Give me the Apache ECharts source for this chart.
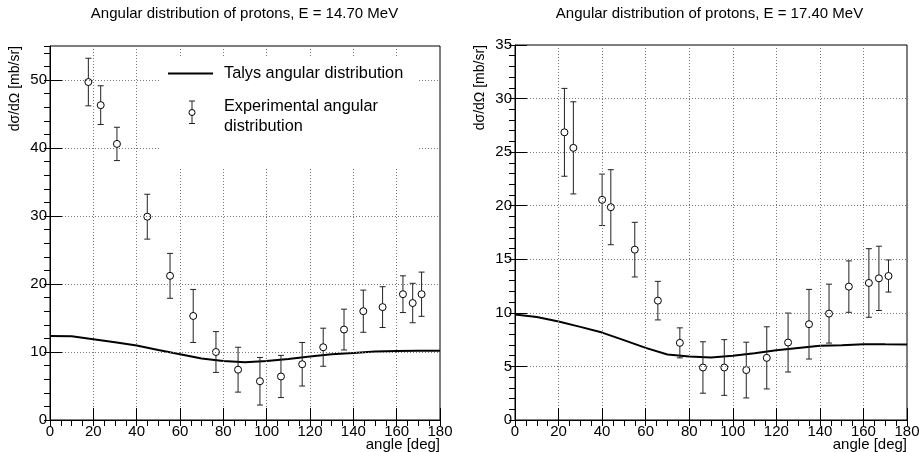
<!DOCTYPE html>
<html>
<head>
<meta charset="utf-8">
<script src="https://cdn.jsdelivr.net/npm/echarts@6/dist/echarts.min.js"></script>
<style>
html,body{margin:0;padding:0;background:#fff;}
#chart{width:924px;height:452px;}
</style>
</head>
<body>
<div id="chart"></div>
<script>
// ---- data ----
const leftTitle = 'Angular distribution of protons, E = 14.70 MeV';
const rightTitle = 'Angular distribution of protons, E = 17.40 MeV';
const yTitle = 'dσ/dΩ [mb/sr]';
const xTitle = 'angle [deg]';
const legendLine = 'Talys angular distribution';
const legendExp1 = 'Experimental angular';
const legendExp2 = 'distribution';

const talysAngles = [0, 10, 20, 30, 40, 50, 60, 70, 80, 90, 100, 110, 120, 130, 140, 150, 160, 170, 180];
const leftTalys  = [12.37, 12.3, 11.88, 11.45, 10.95, 10.3, 9.67, 9.03, 8.67, 8.5, 8.69, 8.98, 9.33, 9.67, 9.87, 10.06, 10.16, 10.2, 10.2];
const rightTalys = [9.84, 9.62, 9.19, 8.69, 8.16, 7.45, 6.73, 6.11, 5.92, 5.84, 5.99, 6.24, 6.52, 6.73, 6.92, 6.98, 7.08, 7.06, 7.05];

const leftAngles = [17.7, 23.4, 30.9, 44.9, 55.4, 66.1, 76.6, 86.8, 96.9, 106.6, 116.4, 126.1, 135.7, 144.6, 153.5, 162.9, 167.4, 171.5];
const leftValues = [49.7, 46.3, 40.6, 29.9, 21.2, 15.3, 10.0, 7.4, 5.7, 6.4, 8.2, 10.7, 13.3, 16.0, 16.6, 18.5, 17.2, 18.5];
const leftErrors = [3.5, 2.85, 2.45, 3.3, 3.3, 3.9, 3.0, 3.3, 3.5, 3.1, 3.2, 2.8, 3.0, 3.1, 3.0, 2.7, 2.9, 3.25];

const rightAngles = [22.7, 26.8, 40.0, 44.0, 55.0, 65.6, 75.7, 86.3, 96.1, 106.2, 115.6, 125.4, 135.0, 144.2, 153.3, 162.5, 167.1, 171.5];
const rightValues = [26.85, 25.4, 20.55, 19.86, 15.9, 11.14, 7.2, 4.9, 4.9, 4.66, 5.8, 7.23, 8.94, 9.93, 12.45, 12.79, 13.22, 13.44];
const rightErrors = [4.1, 4.3, 2.4, 3.5, 2.55, 1.8, 1.4, 2.4, 2.6, 2.6, 2.9, 2.75, 3.25, 2.75, 2.4, 3.2, 3.0, 1.5];

const xTicks = {min: 0, max: 180, major: 20, minor: 5};
const leftYTicks = {min: 0, max: 55, major: 10, minor: 2};
const rightYTicks = {min: 0, max: 35, major: 5, minor: 1};

// ---- build ----
const FONT = '"Liberation Sans", Arial, Helvetica, sans-serif';
const zip3 = (a, b, c) => a.map((v, i) => [v, b[i], c[i]]);
const zip2 = (a, b) => a.map((v, i) => [v, b[i]]);

function mainAxis(grid, t, isX, showMax) {
  return {
    type: 'value', gridIndex: grid, min: t.min, max: t.max, interval: t.major,
    axisLine: {show: true, onZero: false, lineStyle: {color: '#000', width: 1}},
    axisTick: {show: true, inside: true, length: 12, lineStyle: {color: '#000', width: 1}},
    axisLabel: {show: true, color: '#000', fontSize: 15, fontFamily: FONT, margin: isX ? 4 : 3,
      showMaxLabel: showMax, showMinLabel: true},
    splitLine: {show: true, lineStyle: {color: '#777', width: 1, type: [1, 2]}},
    z: 5
  };
}
function minorAxis(grid, t) {
  return {
    type: 'value', gridIndex: grid, min: t.min, max: t.max, interval: t.minor,
    axisLine: {show: false},
    axisTick: {show: true, inside: true, length: 6, lineStyle: {color: '#000', width: 1}},
    axisLabel: {show: false},
    splitLine: {show: false},
    z: 5
  };
}

function errRender(params, api) {
  const x = api.value(0), y = api.value(1), e = api.value(2);
  const c = api.coord([x, y]);
  const top = api.coord([x, y + e]);
  const bot = api.coord([x, y - e]);
  const hw = 3, r = 3.5;
  const ls = {stroke: '#222', lineWidth: 1};
  return {
    type: 'group',
    children: [
      {type: 'line', shape: {x1: c[0], y1: top[1], x2: c[0], y2: bot[1]}, style: ls},
      {type: 'line', shape: {x1: c[0] - hw, y1: top[1], x2: c[0] + hw, y2: top[1]}, style: ls},
      {type: 'line', shape: {x1: c[0] - hw, y1: bot[1], x2: c[0] + hw, y2: bot[1]}, style: ls},
      {type: 'circle', shape: {cx: c[0], cy: c[1], r: r}, style: {fill: '#fff', stroke: '#000', lineWidth: 1}}
    ]
  };
}

const txt = (text, x, y, opts) => Object.assign({
  type: 'text', x: x, y: y, z: 100,
  style: Object.assign({text: text, fill: '#000', font: '15px ' + FONT}, opts || {})
});

const option = {
  animation: false,
  backgroundColor: '#fff',
  grid: [
    {left: 50, top: 46, width: 390, height: 374, show: true, borderColor: '#000', borderWidth: 1, backgroundColor: 'transparent'},
    {left: 515, top: 45, width: 392, height: 375, show: true, borderColor: '#000', borderWidth: 1, backgroundColor: 'transparent'}
  ],
  xAxis: [
    mainAxis(0, xTicks, true, true), minorAxis(0, xTicks),
    mainAxis(1, xTicks, true, true), minorAxis(1, xTicks)
  ],
  yAxis: [
    mainAxis(0, leftYTicks, false, false), minorAxis(0, leftYTicks),
    mainAxis(1, rightYTicks, false, true), minorAxis(1, rightYTicks)
  ],
  series: [
    {type: 'line', xAxisIndex: 0, yAxisIndex: 0, data: zip2(talysAngles, leftTalys), showSymbol: false,
      lineStyle: {color: '#000', width: 2}, z: 3},
    {type: 'custom', xAxisIndex: 0, yAxisIndex: 0, data: zip3(leftAngles, leftValues, leftErrors),
      renderItem: errRender, z: 4},
    {type: 'line', xAxisIndex: 2, yAxisIndex: 2, data: zip2(talysAngles, rightTalys), showSymbol: false,
      lineStyle: {color: '#000', width: 2}, z: 3},
    {type: 'custom', xAxisIndex: 2, yAxisIndex: 2, data: zip3(rightAngles, rightValues, rightErrors),
      renderItem: errRender, z: 4}
  ],
  graphic: [
    txt(leftTitle, 244.5, 14, {font: '15px ' + FONT, align: 'center', verticalAlign: 'middle'}),
    txt(rightTitle, 709.5, 14, {font: '15px ' + FONT, align: 'center', verticalAlign: 'middle'}),
    Object.assign(txt(yTitle, 15, 46, {font: '14px ' + FONT, align: 'right', verticalAlign: 'middle'}), {rotation: Math.PI / 2}),
    Object.assign(txt(yTitle, 480, 45, {font: '14px ' + FONT, align: 'right', verticalAlign: 'middle'}), {rotation: Math.PI / 2}),
    txt(xTitle, 440, 445, {align: 'right', verticalAlign: 'middle'}),
    txt(xTitle, 907, 445, {align: 'right', verticalAlign: 'middle'}),
    // legend
    {type: 'rect', z: 90, shape: {x: 160, y: 57, width: 257, height: 111}, style: {fill: '#fff'}},
    {type: 'line', z: 100, shape: {x1: 168, y1: 73.5, x2: 213, y2: 73.5}, style: {stroke: '#000', lineWidth: 2}},
    txt(legendLine, 224, 73.5, {font: '16.3px ' + FONT, verticalAlign: 'middle'}),
    {type: 'line', z: 100, shape: {x1: 192, y1: 101, x2: 192, y2: 123.5}, style: {stroke: '#222', lineWidth: 1}},
    {type: 'line', z: 100, shape: {x1: 189, y1: 101, x2: 195, y2: 101}, style: {stroke: '#222', lineWidth: 1}},
    {type: 'line', z: 100, shape: {x1: 189, y1: 123.5, x2: 195, y2: 123.5}, style: {stroke: '#222', lineWidth: 1}},
    {type: 'circle', z: 101, shape: {cx: 192, cy: 112.5, r: 3}, style: {fill: '#fff', stroke: '#000', lineWidth: 1}},
    txt(legendExp1, 224, 107, {font: '16.3px ' + FONT, verticalAlign: 'middle'}),
    txt(legendExp2, 224, 127, {font: '16.3px ' + FONT, verticalAlign: 'middle'})
  ]
};

const chart = echarts.init(document.getElementById('chart'), null, {renderer: 'canvas'});
chart.setOption(option);
</script>
</body>
</html>
